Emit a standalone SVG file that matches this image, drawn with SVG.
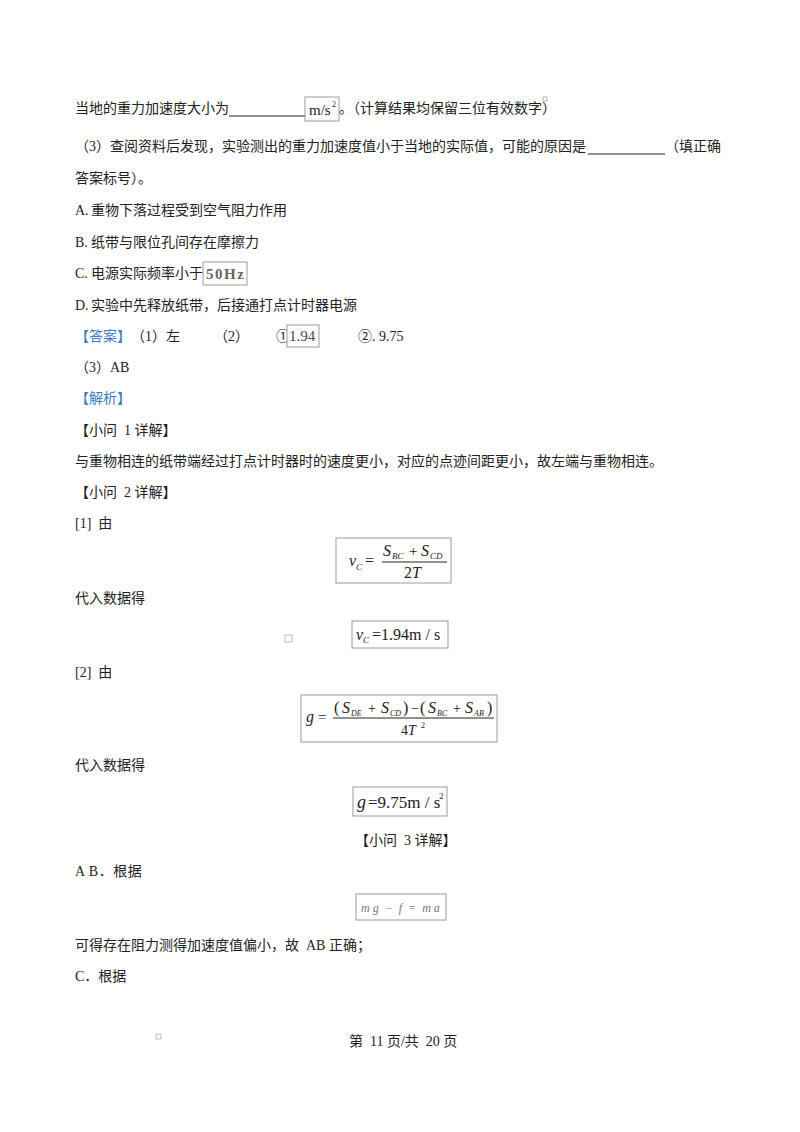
<svg xmlns="http://www.w3.org/2000/svg" width="800" height="1132" viewBox="0 0 800 1132">
<style>
text{font-family:"Liberation Serif","Noto Sans CJK SC",serif;font-size:14px;fill:#222}
.b{fill:#3a7cc6}
.m{font-family:"Liberation Serif","Times New Roman",serif;font-style:italic}
.r{font-family:"Liberation Serif","Times New Roman",serif;font-style:normal}
.box{fill:#fff;stroke:#9a9a9a;stroke-width:1}
.ul{stroke:#222;stroke-width:1}
.sq{fill:none;stroke:#aaa;stroke-width:0.8}
</style>
<rect width="800" height="1132" fill="#fff"/>
<g id="question">
<text x="75" y="113">当地的重力加速度大小为</text>
<line class="ul" x1="229" y1="116" x2="305" y2="116"/>
<rect class="box" x="305" y="97" width="34" height="24"/>
<text class="r" x="309" y="115" style="font-size:15px">m/s</text>
<text class="r" x="332" y="107" style="font-size:8px">2</text>
<text x="339" y="113">。（计算结果均保留三位有效数字）</text>
<rect class="sq" x="543" y="97" width="4" height="4"/>
<text x="75" y="151">（3）查阅资料后发现，实验测出的重力加速度值小于当地的实际值，可能的原因是</text>
<line class="ul" x1="588" y1="154" x2="665" y2="154"/>
<text x="665" y="151">（填正确</text>
<text x="75" y="183">答案标号）。</text>
<text x="75" y="215">A.<tspan x="91">重物下落过程受到空气阻力作用</tspan></text>
<text x="75" y="247">B.<tspan x="91">纸带与限位孔间存在摩擦力</tspan></text>
<text x="75" y="278">C.<tspan x="91">电源实际频率小于</tspan></text>
<rect class="box" x="203" y="262" width="44" height="23"/>
<text class="r" x="206" y="279" style="font-size:15px;font-weight:bold;fill:#666;letter-spacing:1.5px">50Hz</text>
<text x="75" y="310">D.<tspan x="91">实验中先释放纸带，后接通打点计时器电源</tspan></text>
</g>
<g id="answer">
<text class="b" x="75" y="341">【答案】</text>
<text x="131" y="341">（1）左</text>
<text x="214" y="341">（2）</text>
<text x="276" y="341">①</text>
<rect class="box" x="287" y="325" width="32" height="22"/>
<text class="r" x="289" y="341" style="font-size:15px;fill:#444">1.94</text>
<text x="358" y="341">②. 9.75</text>
<text x="75" y="372">（3）AB</text>
<text class="b" x="75" y="403">【解析】</text>
</g>
<g id="part1">
<text x="75" y="435" xml:space="preserve">【小问  1 详解】</text>
<text x="75" y="466">与重物相连的纸带端经过打点计时器时的速度更小，对应的点迹间距更小，故左端与重物相连。</text>
</g>
<g id="part2">
<text x="75" y="497" xml:space="preserve">【小问  2 详解】</text>
<text x="75" y="528" xml:space="preserve">[1]  由</text>
<g id="f1">
<rect class="box" x="336" y="538" width="115" height="45"/>
<text class="m" x="349" y="566" style="font-size:16px">v</text>
<text class="m" x="356" y="570" style="font-size:9px">C</text>
<text class="r" x="365" y="566" style="font-size:16px">=</text>
<text class="m" x="383" y="556" style="font-size:16px">S</text>
<text class="m" x="392" y="559" style="font-size:9px">BC</text>
<text class="r" x="409" y="556" style="font-size:15px">+</text>
<text class="m" x="421" y="556" style="font-size:16px">S</text>
<text class="m" x="430" y="559" style="font-size:9px">CD</text>
<line x1="382" y1="562" x2="447" y2="562" stroke="#222" stroke-width="1"/>
<text class="r" x="404" y="578" style="font-size:16px">2<tspan class="m">T</tspan></text>
</g>
<text x="75" y="603">代入数据得</text>
<rect class="sq" x="285" y="635" width="7" height="7"/>
<g id="f2">
<rect class="box" x="352" y="621" width="96" height="27"/>
<text class="m" x="356" y="640" style="font-size:16px">v</text>
<text class="m" x="363" y="643" style="font-size:9px">C</text>
<text class="r" x="372" y="640" style="font-size:16px" xml:space="preserve">=1.94m / s</text>
</g>
<text x="75" y="677" xml:space="preserve">[2]  由</text>
<g id="f3">
<rect class="box" x="301" y="695" width="196" height="47"/>
<text class="m" x="306" y="722" style="font-size:16px">g</text>
<text class="r" x="318" y="722" style="font-size:15px">=</text>
<text class="r" x="334" y="713" style="font-size:16px">(</text>
<text class="m" x="342" y="713" style="font-size:16px">S</text>
<text class="m" x="351" y="716" style="font-size:8px">DE</text>
<text class="r" x="368" y="713" style="font-size:14px">+</text>
<text class="m" x="381" y="713" style="font-size:16px">S</text>
<text class="m" x="390" y="716" style="font-size:8px">CD</text>
<text class="r" x="403" y="713" style="font-size:16px">)</text>
<text class="r" x="411" y="713" style="font-size:14px">−</text>
<text class="r" x="420" y="713" style="font-size:16px">(</text>
<text class="m" x="428" y="713" style="font-size:16px">S</text>
<text class="m" x="437" y="716" style="font-size:8px">BC</text>
<text class="r" x="453" y="713" style="font-size:14px">+</text>
<text class="m" x="465" y="713" style="font-size:16px">S</text>
<text class="m" x="474" y="716" style="font-size:8px">AB</text>
<text class="r" x="487" y="713" style="font-size:16px">)</text>
<line x1="333" y1="718" x2="494" y2="718" stroke="#222" stroke-width="1"/>
<text class="r" x="401" y="735" style="font-size:14px">4<tspan class="m">T</tspan></text>
<text class="r" x="421" y="728" style="font-size:8px">2</text>
</g>
<text x="75" y="770">代入数据得</text>
<g id="f4">
<rect class="box" x="353" y="787" width="94" height="29"/>
<text class="m" x="357" y="808" style="font-size:18px">g</text>
<text class="r" x="368" y="808" style="font-size:17px" xml:space="preserve">=9.75m / s</text>
<text class="r" x="439" y="799" style="font-size:9px">2</text>
</g>
</g>
<g id="part3">
<text x="355" y="845" xml:space="preserve">【小问  3 详解】</text>
<text x="75" y="876" style="letter-spacing:0.5px">A B．根据</text>
<g id="f5">
<rect class="box" x="356" y="894" width="90" height="26"/>
<text class="m" x="361" y="912" style="font-size:12px;fill:#777" xml:space="preserve">m g  −  f  =  m a</text>
</g>
<text x="75" y="950" xml:space="preserve">可得存在阻力测得加速度值偏小，故  AB 正确；</text>
<text x="75" y="981">C．根据</text>
</g>
<g id="footer">
<rect class="sq" x="156" y="1034" width="5" height="5"/>
<text x="349" y="1046" xml:space="preserve">第  11 页/共  20 页</text>
</g>
</svg>
